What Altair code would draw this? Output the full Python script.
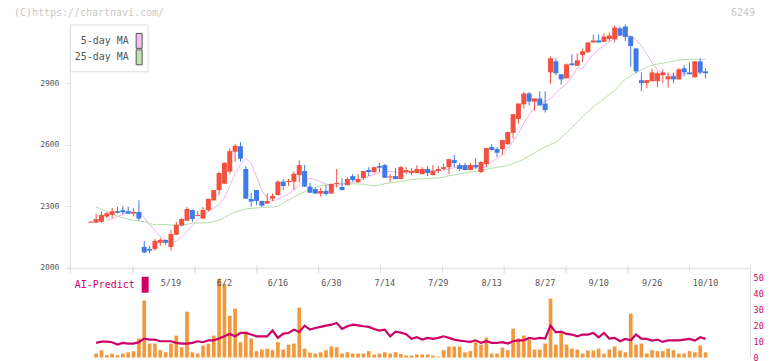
import altair as alt
import pandas as pd

# ---------------- data ----------------
opens = [2220, 2220, 2224, 2250, 2258, 2276, 2281, 2276, 2264, 2272,
         2102, 2092, 2092, 2122, 2136, 2101, 2161, 2206, 2230, 2282,
         2253, 2240, 2281, 2329, 2379, 2410, 2469, 2566, 2593, 2482,
         2336, 2379, 2326, 2313, 2337, 2355, 2420, 2418, 2420, 2452,
         2472, 2396, 2384, 2362, 2375, 2362, 2409, 2394, 2403, 2447,
         2417, 2438, 2477, 2467, 2496, 2501, 2441, 2447, 2433, 2467,
         2462, 2462, 2457, 2482, 2452, 2472, 2482, 2491, 2525, 2501,
         2501, 2477, 2501, 2467, 2506, 2589, 2579, 2579, 2603, 2658,
         2726, 2797, 2850, 2811, 2826, 2801, 2953, 3007, 2944, 2924,
         2997, 2985, 3038, 3051, 3099, 3109, 3102, 3116, 3114, 3168,
         3177, 3129, 3070, 2915, 2901, 2910, 2910, 2939, 2919, 2934,
         2919, 2973, 2953, 2929, 3007, 2958]
highs = [2225, 2263, 2276, 2271, 2292, 2297, 2302, 2297, 2292, 2329,
         2131, 2107, 2141, 2146, 2137, 2185, 2224, 2243, 2297, 2284,
         2277, 2297, 2337, 2380, 2469, 2514, 2582, 2603, 2613, 2496,
         2366, 2380, 2327, 2363, 2363, 2428, 2433, 2433, 2470, 2525,
         2501, 2415, 2391, 2391, 2405, 2410, 2482, 2436, 2441, 2457,
         2457, 2473, 2491, 2492, 2511, 2506, 2457, 2486, 2496, 2491,
         2486, 2501, 2491, 2496, 2501, 2496, 2509, 2531, 2550, 2511,
         2511, 2511, 2535, 2520, 2585, 2603, 2589, 2624, 2663, 2750,
         2802, 2858, 2858, 2827, 2861, 2861, 3031, 3022, 2945, 2997,
         3041, 3046, 3069, 3100, 3138, 3138, 3143, 3148, 3182, 3177,
         3187, 3130, 3071, 2953, 2916, 2973, 2958, 2968, 2953, 2953,
         2973, 2988, 3002, 3008, 3022, 2973]
lows = [2219, 2219, 2219, 2242, 2242, 2264, 2261, 2263, 2250, 2230,
        2071, 2070, 2083, 2107, 2112, 2083, 2160, 2204, 2228, 2224,
        2252, 2237, 2274, 2327, 2355, 2408, 2459, 2517, 2517, 2335,
        2298, 2308, 2297, 2311, 2326, 2353, 2379, 2399, 2379, 2415,
        2394, 2365, 2361, 2347, 2352, 2361, 2391, 2378, 2401, 2420,
        2415, 2428, 2447, 2462, 2467, 2437, 2418, 2432, 2432, 2456,
        2452, 2461, 2456, 2447, 2451, 2462, 2477, 2457, 2491, 2472,
        2476, 2476, 2482, 2462, 2491, 2573, 2540, 2550, 2600, 2631,
        2704, 2777, 2792, 2767, 2791, 2757, 2898, 2939, 2893, 2923,
        2987, 2984, 3004, 3050, 3098, 3098, 3100, 3104, 3099, 3132,
        3106, 2980, 2950, 2862, 2876, 2909, 2880, 2900, 2880, 2900,
        2918, 2934, 2943, 2928, 2944, 2924]
closes = [2225, 2238, 2258, 2266, 2276, 2268, 2271, 2264, 2272, 2240,
          2075, 2084, 2131, 2136, 2122, 2165, 2209, 2238, 2287, 2238,
          2258, 2282, 2336, 2379, 2462, 2512, 2569, 2595, 2532, 2337,
          2323, 2326, 2303, 2326, 2350, 2420, 2399, 2423, 2459, 2501,
          2396, 2366, 2362, 2375, 2360, 2409, 2414, 2379, 2433, 2428,
          2433, 2472, 2467, 2491, 2488, 2439, 2446, 2433, 2491, 2477,
          2472, 2482, 2482, 2462, 2472, 2482, 2491, 2530, 2511, 2482,
          2477, 2501, 2491, 2516, 2584, 2574, 2561, 2623, 2662, 2749,
          2801, 2850, 2811, 2826, 2792, 2769, 3022, 2949, 2919, 2992,
          2988, 3012, 3056, 3099, 3109, 3099, 3128, 3133, 3172, 3133,
          3126, 3082, 2958, 2901, 2915, 2953, 2949, 2953, 2934, 2919,
          2968, 2953, 2944, 3007, 2953, 2949]

# 5-day moving average, first drawn on day 3
ma5 = [2233, 2238, 2250, 2261, 2271, 2271, 2269, 2245, 2212, 2182,
       2153, 2134, 2124, 2128, 2152, 2177, 2204, 2232, 2258, 2277,
       2293, 2306, 2339, 2399, 2460, 2504, 2534, 2509, 2444, 2379,
       2339, 2326, 2334, 2347, 2360, 2379, 2404, 2428, 2436, 2431,
       2420, 2409, 2401, 2399, 2407, 2412, 2417, 2425, 2436, 2447,
       2456, 2464, 2469, 2470, 2467, 2464, 2468, 2470, 2472, 2473,
       2475, 2474, 2474, 2476, 2482, 2488, 2492, 2494, 2494, 2490,
       2482, 2496, 2517, 2534, 2552, 2580, 2618, 2655, 2704, 2746,
       2782, 2801, 2811, 2826, 2853, 2877, 2898, 2931, 2976, 2971,
       3009, 3043, 3064, 3084, 3101, 3120, 3136, 3138, 3131, 3113,
       3082, 3044, 2999, 2967, 2950, 2940, 2939, 2942, 2947, 2947,
       2949, 2953, 2955]
# 25-day moving average, first drawn on day 1
ma25 = [2296, 2285, 2276, 2262, 2252, 2244, 2237, 2232, 2228, 2225,
        2215, 2210, 2211, 2211, 2209, 2209, 2209, 2212, 2218, 2218,
        2218, 2220, 2226, 2232, 2245, 2260, 2272, 2280, 2287, 2290,
        2292, 2294, 2296, 2296, 2300, 2315, 2330, 2346, 2358, 2371,
        2383, 2393, 2400, 2404, 2407, 2409, 2410, 2410, 2410, 2409,
        2407, 2403, 2400, 2403, 2410, 2414, 2417, 2420, 2425, 2430,
        2432, 2434, 2436, 2437, 2439, 2442, 2449, 2453, 2457, 2463,
        2467, 2471, 2476, 2480, 2485, 2490, 2494, 2500, 2508, 2518,
        2530, 2545, 2560, 2575, 2590, 2602, 2612, 2635, 2660, 2685,
        2710, 2738, 2762, 2785, 2805, 2825, 2845, 2865, 2895, 2920,
        2936, 2952, 2966, 2978, 2988, 2993, 2998, 3002, 3008, 3012,
        3015, 3017, 3017, 3017, 3017]
# lower panel, first drawn on day 1
volume = [2.5, 4.6, 1.5, 2.5, 1.5, 2.5, 3.3, 4.0, 11.9, 35.8,
          8.75, 8.75, 4.6, 3.3, 8.75, 13.75, 6.5, 28.75, 3.3, 2.5,
          7.5, 8.75, 13.75, 49.4, 46.25, 26.25, 30.6, 9.6, 16.25, 11.9,
          4.0, 5.0, 5.6, 4.6, 9.6, 5.0, 8.1, 8.75, 31.25, 5.6,
          3.1, 2.5, 3.3, 4.6, 6.9, 6.5, 2.5, 3.3, 2.5, 2.5,
          2.5, 4.0, 1.9, 2.5, 3.3, 2.5, 3.3, 2.2, 1.25, 1.25,
          1.9, 1.9, 1.9, 1.25, 0.6, 4.6, 6.9, 6.9, 6.9, 3.3,
          4.0, 9.6, 8.1, 12.5, 2.5, 2.5, 6.25, 4.6, 18.1, 11.9,
          13.75, 11.25, 5.0, 5.0, 8.75, 36.9, 8.1, 16.25, 8.1, 5.6,
          5.0, 2.5, 4.4, 4.4, 5.6, 2.5, 5.0, 6.9, 4.4, 3.3,
          27.5, 8.1, 8.75, 2.5, 4.6, 4.0, 4.0, 5.6, 4.6, 2.5,
          2.5, 4.0, 3.3, 7.5, 3.3]
ai_predict = [9.2, 10.0, 10.0, 9.6, 8.1, 9.2, 8.75, 8.75, 9.6, 11.9,
              11.25, 11.25, 10.2, 10.2, 10.2, 9.2, 8.75, 8.75, 9.2, 10.2,
              9.6, 10.8, 10.8, 11.9, 13.3, 14.8, 13.3, 15.4, 15.4, 14.4,
              13.3, 13.3, 13.3, 16.9, 12.3, 15.0, 15.4, 17.5, 16.0, 20.0,
              17.5, 18.5, 19.2, 20.0, 20.6, 21.7, 17.9, 19.6, 20.6, 20.2,
              19.6, 19.2, 17.9, 16.9, 17.5, 13.3, 16.25, 15.6, 14.6, 11.7,
              12.7, 11.25, 12.3, 11.7, 12.3, 13.3, 12.3, 11.25, 10.6, 10.2,
              9.8, 10.8, 9.2, 10.2, 9.2, 9.2, 9.6, 8.75, 10.2, 10.8,
              10.8, 12.3, 11.7, 12.3, 11.9, 20.0, 15.8, 16.25, 14.8, 14.4,
              13.3, 14.4, 14.4, 15.4, 12.7, 15.4, 11.9, 12.3, 10.2, 11.7,
              10.8, 14.4, 11.9, 11.7, 10.6, 11.25, 9.8, 10.8, 10.8, 10.8,
              11.25, 11.7, 10.6, 12.7, 11.7]
date_labels = ["5/19", "6/2", "6/16", "6/30", "7/14", "7/29",
               "8/13", "8/27", "9/10", "9/26", "10/10"]
price_ticks = [2000, 2300, 2600, 2900]
sub_ticks = [0, 10, 20, 30, 40, 50]
legend_labels = ["5-day MA", "25-day MA"]
copyright_text = "(C)https://chartnavi.com/"
code_text = "6249"
ai_label = "AI-Predict"

MA5_START, MA25_START, SUB_START = 3, 1, 1
LABEL_START, LABEL_STEP = 15, 10

# ---------------- styling ----------------
MONO = "DejaVu Sans Mono"
RED, BLUE = "#f2513f", "#3f7ae6"
PINK, GREEN = "#e9b6ea", "#b7dca8"
PINK_SW, GREEN_SW = "#f0c2f0", "#c2e3b4"
ORANGE, AI = "#f3993d", "#cc0066"
AXIS = "#dddddd"
W, H_MAIN, H_SUB = 682, 244, 88
PX, LEFT = 5.36, 21

n = len(closes)
candles = pd.DataFrame({"day": list(range(n)), "open": opens, "high": highs,
                        "low": lows, "close": closes})
candles["dir"] = ["up" if c >= o else "down" for o, c in zip(opens, closes)]
ma5_df = pd.DataFrame({"day": list(range(MA5_START, MA5_START + len(ma5))), "value": ma5})
ma25_df = pd.DataFrame({"day": list(range(MA25_START, MA25_START + len(ma25))), "value": ma25})
sub_df = pd.DataFrame({"day": list(range(SUB_START, SUB_START + len(volume))),
                       "volume": volume, "ai": ai_predict})
dates_df = pd.DataFrame({"day": [LABEL_START + LABEL_STEP * k for k in range(len(date_labels))],
                         "label": date_labels})

x_min = -LEFT / PX
x_max = (W - LEFT) / PX
xscale = alt.Scale(domain=[x_min, x_max], nice=False, zero=False, padding=0)
grid_vals = [x_min + (62 * k + 0.5) / PX for k in range(11)] + [x_max]

main_x = alt.X("day:Q", scale=xscale,
               axis=alt.Axis(values=grid_vals, labels=False, tickSize=5, tickColor=AXIS,
                             domainColor=AXIS, grid=False, title=None))
pscale = alt.Scale(domain=[2000, 3187], nice=False, zero=False, padding=0)
paxis = alt.Axis(values=price_ticks, format="d", labelFont=MONO, labelFontSize=8,
                 labelColor="#555", tickColor=AXIS, tickSize=5, labelPadding=6,
                 domainColor=AXIS, grid=False, title=None)
color_enc = alt.Color("dir:N", scale=alt.Scale(domain=["up", "down"], range=[RED, BLUE]),
                      legend=None)

ma25_line = alt.Chart(ma25_df).mark_line(color=GREEN, strokeWidth=1).encode(
    x=main_x, y=alt.Y("value:Q", scale=pscale, axis=paxis))
ma5_line = alt.Chart(ma5_df).mark_line(color=PINK, strokeWidth=1).encode(
    x=main_x, y=alt.Y("value:Q", scale=pscale, axis=paxis))
wicks = alt.Chart(candles).mark_rule(strokeWidth=1).encode(
    x=main_x, y=alt.Y("low:Q", scale=pscale, axis=paxis), y2="high:Q", color=color_enc)
bodies = alt.Chart(candles).mark_bar(size=5).encode(
    x=main_x, y=alt.Y("open:Q", scale=pscale, axis=paxis), y2="close:Q", color=color_enc)

one = pd.DataFrame({"k": [0]})
legend_box = alt.Chart(one).mark_rect(fill="white", stroke="#dddddd", strokeWidth=1).encode(
    x=alt.value(0.5), x2=alt.value(78.5), y=alt.value(0.5), y2=alt.value(47.5))
legend_layers = [legend_box]
for row, (lab, sw) in enumerate(zip(legend_labels, [PINK_SW, GREEN_SW])):
    yc = 16.5 + 16.5 * row
    legend_layers.append(
        alt.Chart(pd.DataFrame({"label": [lab]})).mark_text(
            align="right", baseline="middle", font=MONO, fontSize=10, color="#555"
        ).encode(x=alt.value(59), y=alt.value(yc), text="label:N"))
    legend_layers.append(
        alt.Chart(one).mark_rect(fill=sw, stroke="#555", strokeWidth=1).encode(
            x=alt.value(66.5), x2=alt.value(72.5), y=alt.value(yc - 7.5), y2=alt.value(yc + 7.5)))

copy_txt = alt.Chart(pd.DataFrame({"t": [copyright_text]})).mark_text(
    align="left", baseline="top", font=MONO, fontSize=10, color="#c8c8c8"
).encode(x=alt.value(-56), y=alt.value(-16), text="t:N")
code_txt = alt.Chart(pd.DataFrame({"t": [code_text]})).mark_text(
    align="right", baseline="top", font=MONO, fontSize=10, color="#c8c8c8"
).encode(x=alt.value(687), y=alt.value(-16), text="t:N")

main = alt.layer(ma25_line, ma5_line, wicks, bodies, *legend_layers, copy_txt, code_txt).properties(
    width=W, height=H_MAIN)

# ---------------- lower panel ----------------
lower_x = alt.X("day:Q", scale=xscale,
                axis=alt.Axis(orient="top", values=grid_vals, labels=False, tickSize=5,
                              tickColor=AXIS, domain=False, grid=False, title=None))
vscale = alt.Scale(domain=[0, 55], nice=False, zero=True, padding=0)
vaxis = alt.Axis(orient="right", values=sub_ticks, labelFont=MONO, labelFontSize=8.5,
                 labelColor=AI, tickSize=0, labelPadding=3, domainColor=AXIS,
                 grid=False, title=None)

vol_bars = alt.Chart(sub_df).mark_bar(size=3.7, color=ORANGE).encode(
    x=lower_x, y=alt.Y("volume:Q", scale=vscale, axis=vaxis))
ai_line = alt.Chart(sub_df).mark_line(color=AI, strokeWidth=2.2).encode(
    x=lower_x, y=alt.Y("ai:Q", scale=vscale, axis=vaxis))
date_txt = alt.Chart(dates_df).mark_text(
    baseline="middle", font=MONO, fontSize=8.5, color="#555"
).encode(x=lower_x, y=alt.value(13), text="label:N")
ai_txt = alt.Chart(pd.DataFrame({"t": [ai_label]})).mark_text(
    align="left", baseline="middle", font=MONO, fontSize=10, color=AI
).encode(x=alt.value(5), y=alt.value(15), text="t:N")
ai_sw = alt.Chart(one).mark_rect(fill=AI).encode(
    x=alt.value(72), x2=alt.value(79), y=alt.value(7), y2=alt.value(23))

lower = alt.layer(vol_bars, ai_line, date_txt, ai_txt, ai_sw).properties(width=W, height=H_SUB)

chart = alt.vconcat(main, lower, spacing=2, bounds="flush").properties(
    padding={"left": 6, "top": 0, "right": 0, "bottom": 0}
).configure_view(stroke=None)

chart.save("out.html", embed_options={"renderer": "svg", "actions": False})
